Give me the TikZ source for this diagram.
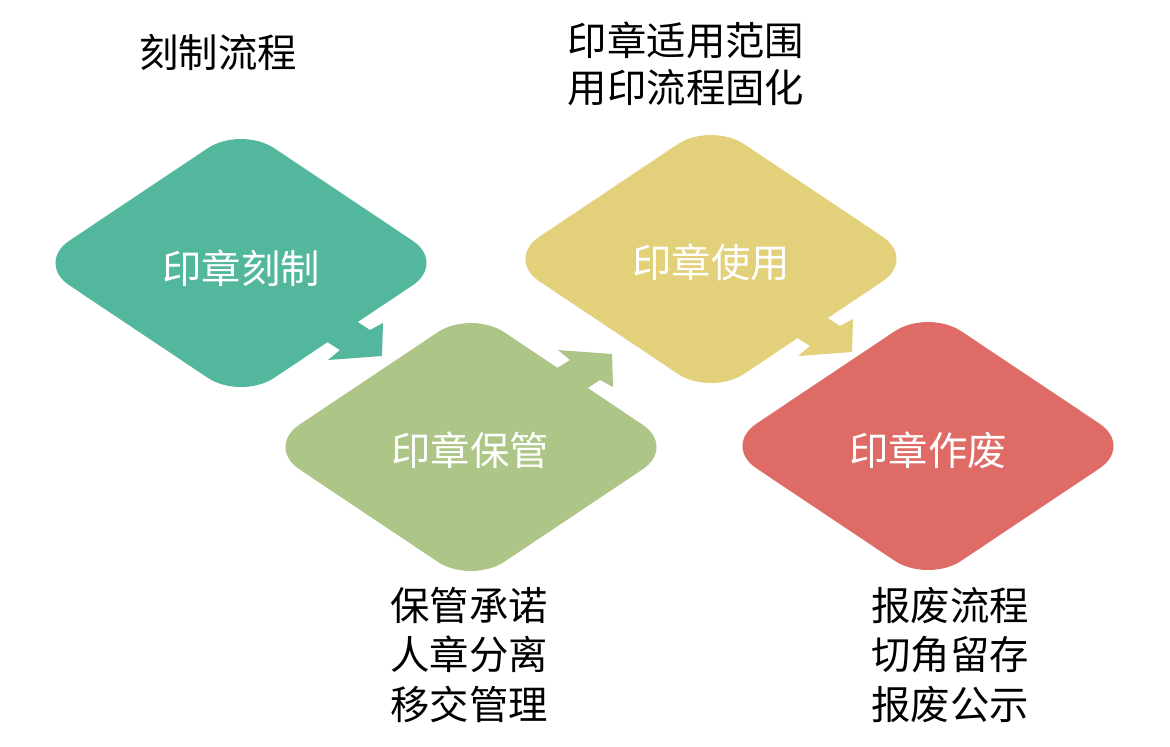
\documentclass[tikz,border=0pt]{standalone}
\usepackage{fontspec}
\newfontfamily\cjk{Noto Sans CJK SC}
\definecolor{cTeal}{HTML}{52B79D}
\definecolor{cGreen}{HTML}{ADC587}
\definecolor{cYellow}{HTML}{E2D07A}
\definecolor{cRed}{HTML}{DF6B66}
\begin{document}
\begin{tikzpicture}[x=0.025cm,y=-0.025cm,
  diam/.style={rounded corners=1cm},
  lbl/.style={font=\cjk\fontsize{28}{35}\selectfont, text=white, inner sep=0pt},
  note/.style={font=\cjk\fontsize{28}{35}\selectfont, text=black, align=center, inner sep=0pt}]
\useasboundingbox (0,0) rectangle (1170,746);

% diamond centres
\coordinate (c1) at (241,263);
\coordinate (c2) at (471,447);
\coordinate (c3) at (711,259);
\coordinate (c4) at (928,446);

% stage 1
\begin{scope}[shift={(c1)}]
  \fill[cTeal, diam] (-205,0) -- (0,-137) -- (205,0) -- (0,137) -- cycle;
  \fill[cTeal] (100,48) -- (129,67) -- (142,60) -- (141,93) -- (87,97) -- (99,87) -- (70,69) -- cycle;
\end{scope}
% stage 2
\begin{scope}[shift={(c2)}]
  \fill[cGreen, diam] (-205,0) -- (0,-137) -- (205,0) -- (0,137) -- cycle;
  \fill[cGreen] (100,-48) -- (129,-67) -- (142,-60) -- (141,-93) -- (87,-97) -- (99,-87) -- (70,-69) -- cycle;
\end{scope}
% stage 3
\begin{scope}[shift={(c3)}]
  \fill[cYellow, diam] (-205,0) -- (0,-137) -- (205,0) -- (0,137) -- cycle;
  \fill[cYellow] (100,48) -- (129,67) -- (142,60) -- (141,93) -- (87,97) -- (99,87) -- (70,69) -- cycle;
\end{scope}
% stage 4
\begin{scope}[shift={(c4)}]
  \fill[cRed, diam] (-205,0) -- (0,-137) -- (205,0) -- (0,137) -- cycle;
\end{scope}

\node[lbl] (s1) at (241,268) {印章刻制};
\node[lbl] (s2) at (470,450) {印章保管};
\node[lbl] (s3) at (711,262) {印章使用};
\node[lbl] (s4) at (928,450) {印章作废};

\node[note] (n1) at (218,52) {刻制流程};
\node[note, font=\cjk\fontsize{28}{33.5}\selectfont] (n3) at (686,64) {印章适用范围\\用印流程固化};
\node[note] (n2) at (469,655) {保管承诺\\人章分离\\移交管理};
\node[note] (n4) at (950,655) {报废流程\\切角留存\\报废公示};
\end{tikzpicture}
\end{document}
